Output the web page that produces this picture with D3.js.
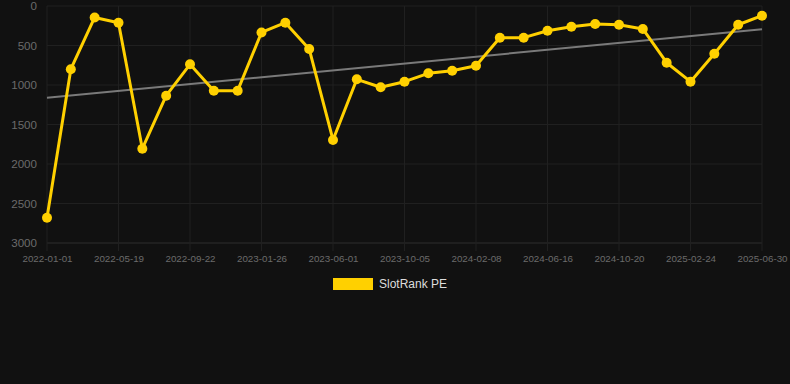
<!DOCTYPE html>
<html>
<head>
<meta charset="utf-8">
<script src="https://cdn.jsdelivr.net/npm/d3@7"></script>
<style>
  body { margin: 0; background: #111111; }
  svg { display: block; font-family: "Liberation Sans", Arial, sans-serif; }
</style>
</head>
<body>
<div id="chart"></div>
<script>
// data
var dates = ["2022-01-01", "2022-02-16", "2022-04-02", "2022-05-19", "2022-06-30", "2022-08-11",
        "2022-09-22", "2022-11-03", "2022-12-15", "2023-01-26", "2023-03-09", "2023-04-20",
        "2023-06-01", "2023-07-13", "2023-08-24", "2023-10-05", "2023-11-16", "2023-12-28",
        "2024-02-08", "2024-03-21", "2024-05-05", "2024-06-16", "2024-07-28", "2024-09-08",
        "2024-10-20", "2024-12-01", "2025-01-12", "2025-02-24", "2025-04-06", "2025-05-18",
        "2025-06-30"];
var ranks = [2680, 800, 145, 211, 1806, 1135, 738, 1072, 1072, 335, 211, 544,
        1696, 928, 1029, 958, 852, 819, 756, 401, 401, 313, 262, 228, 237, 291,
        718, 958, 604, 237, 123];
var yTicks = [0, 500, 1000, 1500, 2000, 2500, 3000];
var seriesName = "SlotRank PE";

var margin = { top: 6, right: 28, bottom: 141, left: 47 },
        width = 790 - margin.left - margin.right,
        height = 384 - margin.top - margin.bottom;

var svg = d3.select("#chart").append("svg")
        .attr("width", 790)
        .attr("height", 384)
        .style("background", "#111111");

var g = svg.append("g")
        .attr("transform", "translate(" + margin.left + "," + margin.top + ")");

var x = d3.scalePoint()
        .domain(dates)
        .range([0, width]);

var y = d3.scaleLinear()
        .domain([0, 3000])
        .range([0, height]);

// grid
g.append("g")
        .selectAll("line")
        .data(yTicks)
        .enter().append("line")
        .attr("x1", 0)
        .attr("x2", width)
        .attr("y1", function (d) { return y(d); })
        .attr("y2", function (d) { return y(d); })
        .attr("stroke", function (d) { return d === 3000 ? "#2e2e2e" : "#202020"; })
        .attr("stroke-width", 1);

var labelDates = dates.filter(function (d, i) { return i % 3 === 0; });

g.append("g")
        .selectAll("line")
        .data(labelDates)
        .enter().append("line")
        .attr("x1", function (d) { return x(d); })
        .attr("x2", function (d) { return x(d); })
        .attr("y1", 0)
        .attr("y2", height + 8)
        .attr("stroke", "#202020")
        .attr("stroke-width", 1);

// axes
var yAxis = d3.axisLeft(y)
        .tickValues(yTicks)
        .tickFormat(d3.format("d"))
        .tickSize(0)
        .tickPadding(10);

g.append("g")
        .attr("class", "y axis")
        .call(yAxis)
        .call(function (a) { a.select(".domain").remove(); })
        .selectAll("text")
        .attr("fill", "#6b6b6b")
        .style("font-size", "11.6px");

var xAxis = d3.axisBottom(x)
        .tickValues(labelDates)
        .tickSize(0)
        .tickPadding(12);

g.append("g")
        .attr("class", "x axis")
        .attr("transform", "translate(0," + height + ")")
        .call(xAxis)
        .call(function (a) { a.select(".domain").remove(); })
        .selectAll("text")
        .attr("fill", "#6b6b6b")
        .style("font-size", "9.8px");

// trend line (least squares over the series)
var n = ranks.length;
var mx = d3.mean(ranks, function (d, i) { return i; });
var my = d3.mean(ranks);
var sxy = d3.sum(ranks, function (d, i) { return (i - mx) * (d - my); });
var sxx = d3.sum(ranks, function (d, i) { return (i - mx) * (i - mx); });
var slope = sxy / sxx;
var icpt = my - slope * mx;

g.append("line")
        .attr("x1", x(dates[0]))
        .attr("x2", x(dates[n - 1]))
        .attr("y1", y(icpt))
        .attr("y2", y(icpt + slope * (n - 1)))
        .attr("stroke", "#7a7a7a")
        .attr("stroke-width", 2);

// series
var line = d3.line()
        .x(function (d, i) { return x(dates[i]); })
        .y(function (d) { return y(d); });

g.append("path")
        .datum(ranks)
        .attr("d", line)
        .attr("fill", "none")
        .attr("stroke", "#ffd000")
        .attr("stroke-width", 3)
        .attr("stroke-linejoin", "round");

g.selectAll(".dot")
        .data(ranks)
        .enter().append("circle")
        .attr("class", "dot")
        .attr("cx", function (d, i) { return x(dates[i]); })
        .attr("cy", function (d) { return y(d); })
        .attr("r", 5)
        .attr("fill", "#ffd000");

// legend
var legend = svg.append("g")
        .attr("transform", "translate(333,278)");

legend.append("rect")
        .attr("width", 40)
        .attr("height", 12)
        .attr("fill", "#ffd000");

legend.append("text")
        .attr("x", 46)
        .attr("y", 6)
        .attr("dy", ".35em")
        .attr("fill", "#dddddd")
        .style("font-size", "12px")
        .text(seriesName);
</script>
</body>
</html>
